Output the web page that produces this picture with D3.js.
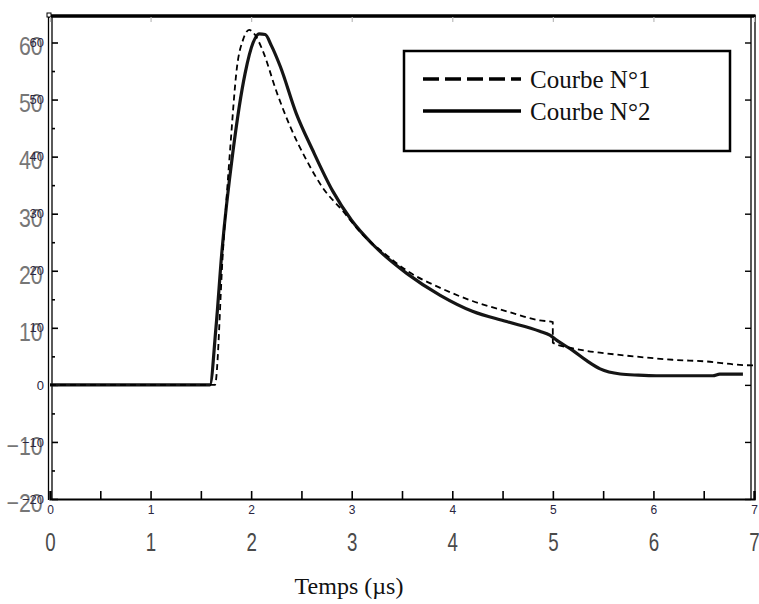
<!DOCTYPE html>
<html>
<head>
<meta charset="utf-8">
<script src="https://cdn.jsdelivr.net/npm/d3@7"></script>
<style>
  body { margin: 0; background: #fff; }
</style>
</head>
<body>
<div id="chart"></div>
<script>
// Data
const timeC1 = [0, 1.64, 1.72, 1.79, 1.86, 1.92, 1.98, 2.04, 2.11, 2.26, 2.39, 2.55, 2.71, 2.91, 3.11, 3.3, 3.55, 3.88, 4.2, 4.54, 4.87, 4.999, 5.0, 5.2, 5.54, 5.86, 6.19, 6.53, 6.86, 7.0]
const valC1 = [0, 0, 23.5, 41, 55.8, 60.5, 62.2, 61.3, 58.8, 51, 45.2, 39.4, 34.6, 30.5, 26.3, 23.4, 20, 17, 14.7, 12.9, 11.3, 11, 7.4, 6.4, 5.5, 4.9, 4.4, 4.1, 3.5, 3.4]

const timeC2 = [0, 1.59, 1.65, 1.71, 1.82, 1.94, 2.02, 2.08, 2.14, 2.2, 2.29, 2.45, 2.61, 2.81, 3.0, 3.21, 3.55, 3.88, 4.2, 4.54, 4.87, 4.97, 5.04, 5.2, 5.34, 5.47, 5.67, 5.85, 6.03, 6.59, 6.66, 6.89]
const valC2 = [0, 0, 10, 23.5, 41, 54.6, 60, 61.5, 61.4, 59.5, 55.8, 47.5, 41.2, 34, 28.8, 24.6, 19.5, 15.7, 12.9, 11.1, 9.4, 8.7, 7.8, 6.0, 4.2, 2.8, 1.9, 1.7, 1.6, 1.6, 1.9, 1.9]

const xTicks = [0, 0.5, 1, 1.5, 2, 2.5, 3, 3.5, 4, 4.5, 5, 5.5, 6, 6.5, 7]
const xLabels = [0, 1, 2, 3, 4, 5, 6, 7]
const yTicks = [-20, -15, -10, -5, 0, 5, 10, 15, 20, 25, 30, 35, 40, 45, 50, 55, 60]
const yLabels = [-20, -10, 0, 10, 20, 30, 40, 50, 60]
const yBigLabels = [-20, -10, 10, 20, 30, 40, 50, 60]
const seriesNames = ['Courbe N°1', 'Courbe N°2']
const xTitle = 'Temps (µs)'

// Dimensions
const dimensions = {
  width: 759,
  height: 604,
  left: 50,
  right: 754,
  top: 15,
  bottom: 499
}

const svg = d3.select('#chart')
  .append('svg')
  .attr('width', dimensions.width)
  .attr('height', dimensions.height)

// Scales
const xScale = d3.scaleLinear()
  .domain([0, 7])
  .range([dimensions.left, dimensions.right])

const yScale = d3.scaleLinear()
  .domain([-20, 60])
  .range([dimensions.bottom, 42.5])

// Frame
const frame = svg.append('g').attr('stroke', '#000').attr('fill', 'none')
frame.append('line')
  .attr('x1', 48.5).attr('x2', 48.5)
  .attr('y1', dimensions.top).attr('y2', dimensions.bottom + 1)
  .attr('stroke-width', 1.3)
frame.append('line')
  .attr('x1', 52).attr('x2', 52)
  .attr('y1', dimensions.top).attr('y2', dimensions.bottom)
  .attr('stroke-width', 1.3)
frame.append('line')
  .attr('x1', 751).attr('x2', 751)
  .attr('y1', dimensions.top).attr('y2', dimensions.bottom)
  .attr('stroke-width', 1.3)
frame.append('line')
  .attr('x1', 755).attr('x2', 755)
  .attr('y1', dimensions.top).attr('y2', dimensions.bottom + 1)
  .attr('stroke-width', 1.3)
frame.append('line')
  .attr('x1', 48).attr('x2', 755.5)
  .attr('y1', dimensions.top + 1).attr('y2', dimensions.top + 1)
  .attr('stroke-width', 3.5)
frame.append('rect')
  .attr('x', 47).attr('y', 13)
  .attr('width', 4).attr('height', 4)
  .attr('fill', '#fff').attr('stroke-width', 1)

// Axes
const xAxis = d3.axisBottom(xScale)
  .tickValues(xTicks)
  .tickSize(-8)
  .tickPadding(6)
  .tickFormat(d => Number.isInteger(d) ? d : '')

const xAxisGroup = svg.append('g')
  .attr('transform', `translate(0, ${dimensions.bottom})`)
  .call(xAxis)
xAxisGroup.select('.domain').attr('stroke-width', 2.2)
xAxisGroup.selectAll('.tick line').attr('stroke-width', 1.6)
xAxisGroup.selectAll('text')
  .attr('font-family', 'Liberation Sans, Arial, sans-serif')
  .attr('font-size', 12)
  .attr('fill', '#2a2540')

const xBigAxis = d3.axisBottom(xScale)
  .tickValues(xLabels)
  .tickSize(0)
  .tickPadding(34)
  .tickFormat(d3.format('d'))

const xBigGroup = svg.append('g')
  .attr('transform', `translate(0, ${dimensions.bottom})`)
  .call(xBigAxis)
xBigGroup.select('.domain').remove()
xBigGroup.selectAll('text')
  .attr('font-family', 'Liberation Sans, Arial, sans-serif')
  .attr('font-size', 26)
  .attr('fill', '#4a4a4a')
  .attr('transform', 'scale(0.72, 1)')

const yAxis = d3.axisRight(yScale)
  .tickValues(yTicks)
  .tickSize(0)
  .tickFormat('')

const yAxisGroup = svg.append('g')
  .attr('transform', `translate(52, 0)`)
  .call(yAxis)
yAxisGroup.select('.domain').remove()
yAxisGroup.selectAll('.tick line')
  .attr('x2', d => d % 10 === 0 ? 6 : 3)
  .attr('stroke-width', 1.6)

const yBigAxis = d3.axisLeft(yScale)
  .tickValues(yBigLabels)
  .tickSize(0)
  .tickPadding(9)

const yBigGroup = svg.append('g')
  .attr('transform', `translate(50, 0)`)
  .call(yBigAxis)
yBigGroup.select('.domain').remove()
yBigGroup.selectAll('text')
  .attr('font-family', 'Liberation Sans, Arial, sans-serif')
  .attr('font-size', 26)
  .attr('fill', '#555')
  .attr('opacity', 0.8)
  .attr('transform', 'translate(0, 4) scale(0.82, 1)')

// small labels drawn on top of the big ones
const ySmallAxis = d3.axisLeft(yScale)
  .tickValues(yLabels)
  .tickSize(0)
  .tickPadding(6)

const ySmallGroup = svg.append('g')
  .attr('transform', `translate(50, 0)`)
  .call(ySmallAxis)
ySmallGroup.select('.domain').remove()
ySmallGroup.selectAll('text')
  .attr('font-family', 'Liberation Sans, Arial, sans-serif')
  .attr('font-size', 13)
  .attr('fill', '#2a2540')

// right and top ticks
const yRight = d3.axisLeft(yScale)
  .tickValues(yLabels)
  .tickSize(6)
  .tickFormat('')
const yRightGroup = svg.append('g')
  .attr('transform', `translate(751, 0)`)
  .call(yRight)
yRightGroup.select('.domain').remove()
yRightGroup.selectAll('.tick line').attr('stroke-width', 1.4)

const xTop = d3.axisTop(xScale)
  .tickValues(xLabels)
  .tickSize(-5)
  .tickFormat('')
const xTopGroup = svg.append('g')
  .attr('transform', `translate(0, ${dimensions.top + 2})`)
  .call(xTop)
xTopGroup.select('.domain').remove()
xTopGroup.selectAll('.tick line').attr('stroke', '#bbb').attr('stroke-width', 1.2)

// Lines
const curve1 = timeC1.map((t, i) => [t, valC1[i]])
const curve2 = timeC2.map((t, i) => [t, valC2[i]])

const lineGen = d3.line()
  .x(d => xScale(d[0]))
  .y(d => yScale(d[1]))
  .curve(d3.curveMonotoneX)

svg.append('path')
  .datum(curve2)
  .attr('d', lineGen)
  .attr('fill', 'none')
  .attr('stroke', '#151515')
  .attr('stroke-width', 3.2)
  .attr('stroke-linejoin', 'round')

svg.append('path')
  .datum(curve1)
  .attr('d', lineGen)
  .attr('fill', 'none')
  .attr('stroke', '#000')
  .attr('stroke-width', 1.8)
  .attr('stroke-dasharray', '6,4')

// Legend
const legend = svg.append('g')
legend.append('rect')
  .attr('x', 404).attr('y', 51)
  .attr('width', 326).attr('height', 100)
  .attr('fill', '#fff')
  .attr('stroke', '#000')
  .attr('stroke-width', 2.5)

legend.selectAll('line')
  .data(seriesNames)
  .join('line')
  .attr('x1', 423).attr('x2', 521)
  .attr('y1', (d, i) => 79 + i * 32)
  .attr('y2', (d, i) => 79 + i * 32)
  .attr('stroke', '#000')
  .attr('stroke-width', 3.5)
  .attr('stroke-dasharray', (d, i) => i === 0 ? '16,6' : null)

legend.selectAll('text')
  .data(seriesNames)
  .join('text')
  .attr('x', 530)
  .attr('y', (d, i) => 88 + i * 32)
  .attr('font-family', 'Liberation Serif, Times New Roman, serif')
  .attr('font-size', 25)
  .attr('fill', '#111')
  .text(d => d)

// Axis title
svg.append('text')
  .attr('x', 349)
  .attr('y', 594)
  .attr('text-anchor', 'middle')
  .attr('font-family', 'Liberation Serif, Times New Roman, serif')
  .attr('font-size', 24)
  .attr('fill', '#111')
  .text(xTitle)
</script>
</body>
</html>
